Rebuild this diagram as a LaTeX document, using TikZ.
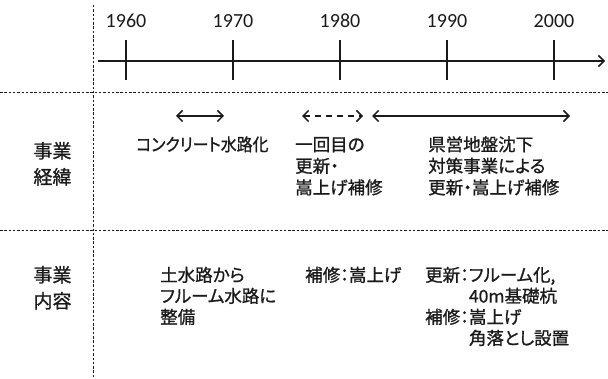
\documentclass[tikz,border=0pt]{standalone}
\usepackage{fontspec}
\setmainfont{Noto Sans CJK JP}[CharacterWidth=AlternateProportional, BoldFont={Noto Sans CJK JP}, BoldFeatures={FakeBold=1}]
\newfontfamily\yearfont{Carlito}
\usetikzlibrary{arrows.meta}
\newcommand{\mlines}[1]{\begin{tabular}[t]{@{}l@{}}#1\end{tabular}}
\newcommand{\clines}[1]{\begin{tabular}[t]{@{}c@{}}#1\end{tabular}}
\definecolor{ink}{HTML}{1A1A1A}
\tikzset{
  sepline/.style={draw=ink, line width=0.7pt, dash pattern=on 2.5pt off 1.8pt},
  barb/.tip={Straight Barb[length=5.5pt,width=11pt,line width=1.5pt]},
  axisline/.style={draw=ink, line width=1.5pt, -barb},
  tickline/.style={draw=ink, line width=1.7pt},
  span/.style={draw=ink, line width=1.5pt, barb-barb},
  dspan/.style={span, dash pattern=on 6pt off 5pt},
  yr/.style={anchor=base, inner sep=0pt, text=ink, font=\yearfont\fontsize{20}{24}\selectfont},
  txt/.style={anchor=base west, inner sep=0pt, text=ink, font=\bfseries\fontsize{17.5}{21.5}\selectfont},
  txt2/.style={anchor=base west, inner sep=0pt, text=ink, font=\bfseries\fontsize{17.5}{21}\selectfont},
  head/.style={anchor=base, inner sep=0pt, text=ink, font=\bfseries\fontsize{19}{26}\selectfont},
}
\begin{document}
\begin{tikzpicture}[x=1pt,y=-1pt]
\useasboundingbox (0,0) rectangle (608,379);
% separators
\coordinate (vtop) at (93,5);
\coordinate (vbot) at (93,379);
\coordinate (h1l) at (0,92);
\coordinate (h1r) at (608,92);
\coordinate (h2l) at (0,230);
\coordinate (h2r) at (608,230);
\draw[sepline] (vtop) -- (vbot);
\draw[sepline] (h1l) -- (h1r);
\draw[sepline] (h2l) -- (h2r);
% axis
\coordinate (axs) at (98,61);
\coordinate (axe) at (605,61);
\draw[axisline] (axs) -- (axe);
\foreach \x/\yy in {126/1960,233/1970,340/1980,447/1990,554/2000}{
  \coordinate (t\yy a) at (\x,40);
  \coordinate (t\yy b) at (\x,80);
  \draw[tickline] (t\yy a) -- (t\yy b);
  \node[yr] (y\yy) at (\x,28) {\yy};
}
% spans
\coordinate (s1a) at (176,116);
\coordinate (s1b) at (224,116);
\coordinate (s2a) at (302,116);
\coordinate (s2b) at (363,116);
\coordinate (s3a) at (372,116);
\coordinate (s3b) at (570,116);
\draw[span] (s1a) -- (s1b);
\draw[dspan] (s2a) -- (s2b);
\draw[span] (s3a) -- (s3b);
% headings
\node[head] (h1) at (52.5,158) {\clines{事業\\経緯}};
\node[head] (h2) at (52.5,282) {\clines{事業\\内容}};
% section 2 texts
\node[txt] (a1) at (136,151) {\scalebox{0.91}[1]{コンクリート水路化}};
\node[txt] (a2) at (295,151) {\mlines{一回目の\\更新・\\嵩上げ補修}};
\node[txt] (a3) at (428,151) {\mlines{県営地盤沈下\\対策事業による\\更新・嵩上げ補修}};
% section 3 texts
\node[txt2] (b1) at (160,281.5) {\mlines{土水路から\\フルーム水路に\\整備}};
\node[txt2] (b2) at (305,281.5) {補修：嵩上げ};
\node[txt2] (b3) at (425,281.5) {\begin{tabular}[t]{@{}l@{}l@{}}更新：&フルーム化,\\ &40m基礎杭\\ 補修：&嵩上げ\\ &角落とし設置\end{tabular}};
\end{tikzpicture}
\end{document}
